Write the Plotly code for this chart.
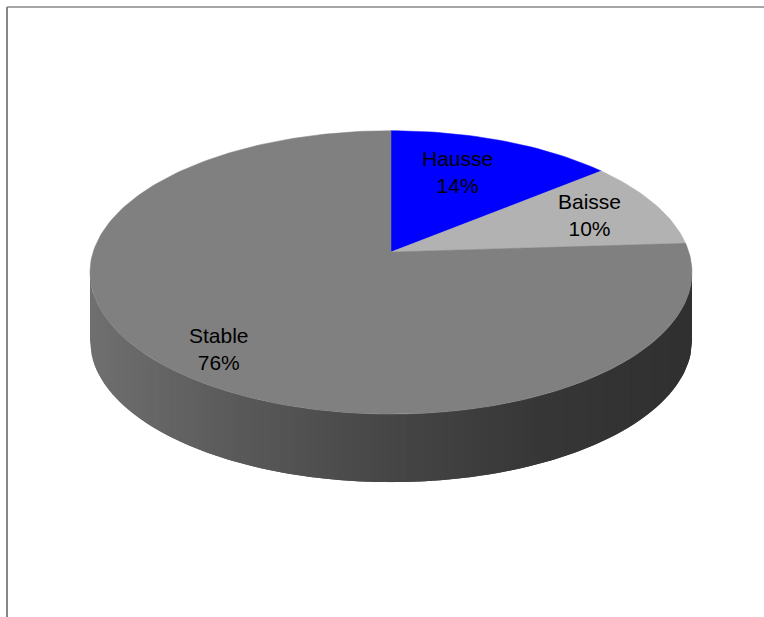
import numpy as np
import plotly.graph_objects as go

# Pie data
labels = ["Hausse", "Baisse", "Stable"]
values = [14, 10, 76]
colors = ["#0000ff", "#b2b2b2", "#808080"]

# Canvas / 3D pie geometry (pixel space)
W, H = 764, 617
CX, CY = 391, 272.4      # centre of the top ellipse
RX, RY = 301, 141.7      # radii of the top ellipse
T = 0.144                # perspective shift of the pie centre
DEPTH = 68               # thickness of the pie edge

LABEL_POS = [(457, 172), (589, 215), (219, 349)]

total = float(sum(values))
fracs = np.array(values) / total
cum = np.concatenate([[0.0], np.cumsum(fracs)])


def project(theta, r=1.0):
    """Disc point (clockwise from 12 o'clock) -> screen pixel with perspective."""
    u = r * np.sin(theta)
    v = r * np.cos(theta)
    d = 1 + T * v
    xn = u * np.sqrt(1 - T * T) / d
    yn = (v + T) / d
    return CX + RX * xn, CY - RY * yn


def unproject_angle(xn, yn):
    """Normalised ellipse point -> disc angle (clockwise from top)."""
    d = 1 - T * yn
    u = xn * np.sqrt(1 - T * T) / d
    v = (yn - T) / d
    return np.mod(np.arctan2(u, v), 2 * np.pi)


def shade(hex_color, k):
    h = hex_color.lstrip("#")
    r, g, b = (int(h[i:i + 2], 16) for i in (0, 2, 4))
    return "rgb({},{},{})".format(int(r * k), int(g * k), int(b * k))


def side_factor(xn):
    # darker towards the right of the edge band
    xs = [-1.0, -0.5, 0.0, 0.5, 1.0]
    ks = [0.875, 0.70, 0.55, 0.43, 0.375]
    return float(np.interp(xn, xs, ks))


def lower_arc(x0, x1, n=6):
    xs = np.linspace(x0, x1, n)
    ys = -np.sqrt(np.clip(1 - xs * xs, 0, 1))
    return xs, ys


fig = go.Figure()

# Edge band (front half of the disc): shaded vertical strips, each one
# overlapping the next so no seams appear
N = 160
xe = np.linspace(-1, 1, N + 1)
for i in range(N):
    x0 = xe[i]
    x1 = xe[min(i + 2, N)]
    xm = 0.5 * (xe[i] + xe[i + 1])
    ym = -np.sqrt(max(1 - xm * xm, 0))
    ang = unproject_angle(xm, ym) / (2 * np.pi)
    idx = int(np.searchsorted(cum, ang, side="right") - 1)
    idx = min(max(idx, 0), len(values) - 1)
    col = shade(colors[idx], side_factor(xm))
    ax, ay = lower_arc(x0, x1)
    px = CX + RX * ax
    py = CY - RY * ay
    xs = np.concatenate([px, px[::-1]])
    ys = np.concatenate([py, py[::-1] + DEPTH])
    fig.add_trace(go.Scatter(
        x=xs, y=ys, mode="lines", fill="toself", fillcolor=col,
        line=dict(color=col, width=0), hoverinfo="skip", showlegend=False))

# Top faces of the slices
for i, (lab, col) in enumerate(zip(labels, colors)):
    a0, a1 = cum[i] * 2 * np.pi, cum[i + 1] * 2 * np.pi
    th = np.linspace(a0, a1, max(int(300 * fracs[i]), 8))
    ax, ay = project(th)
    vx, vy = project(0.0, 0.0)
    xs = np.concatenate([[vx], ax, [vx]])
    ys = np.concatenate([[vy], ay, [vy]])
    fig.add_trace(go.Scatter(
        x=xs, y=ys, mode="lines", fill="toself", fillcolor=col,
        line=dict(color=col, width=0.5), hoverinfo="skip", showlegend=False,
        name=lab))

# Data labels
for lab, v, (lx, ly) in zip(labels, values, LABEL_POS):
    pct = round(100 * v / total)
    fig.add_annotation(
        x=lx, y=ly, xref="x", yref="y", text="{}<br>{}%".format(lab, pct),
        showarrow=False, align="center",
        font=dict(family="Liberation Sans, Arial, sans-serif", size=21, color="black"))

# Chart area border (left and top edges visible)
fig.add_shape(type="line", x0=7, y0=7, x1=7, y1=H, xref="x", yref="y",
              line=dict(color="#878787", width=2))
fig.add_shape(type="line", x0=7, y0=7, x1=W, y1=7, xref="x", yref="y",
              line=dict(color="#878787", width=1.5))

fig.update_xaxes(range=[0, W], visible=False, fixedrange=True)
fig.update_yaxes(range=[H, 0], visible=False, fixedrange=True)
fig.update_layout(
    width=W, height=H, autosize=False,
    margin=dict(l=0, r=0, t=0, b=0, pad=0),
    paper_bgcolor="white", plot_bgcolor="white",
    showlegend=False,
)

fig.write_html("out.html")
